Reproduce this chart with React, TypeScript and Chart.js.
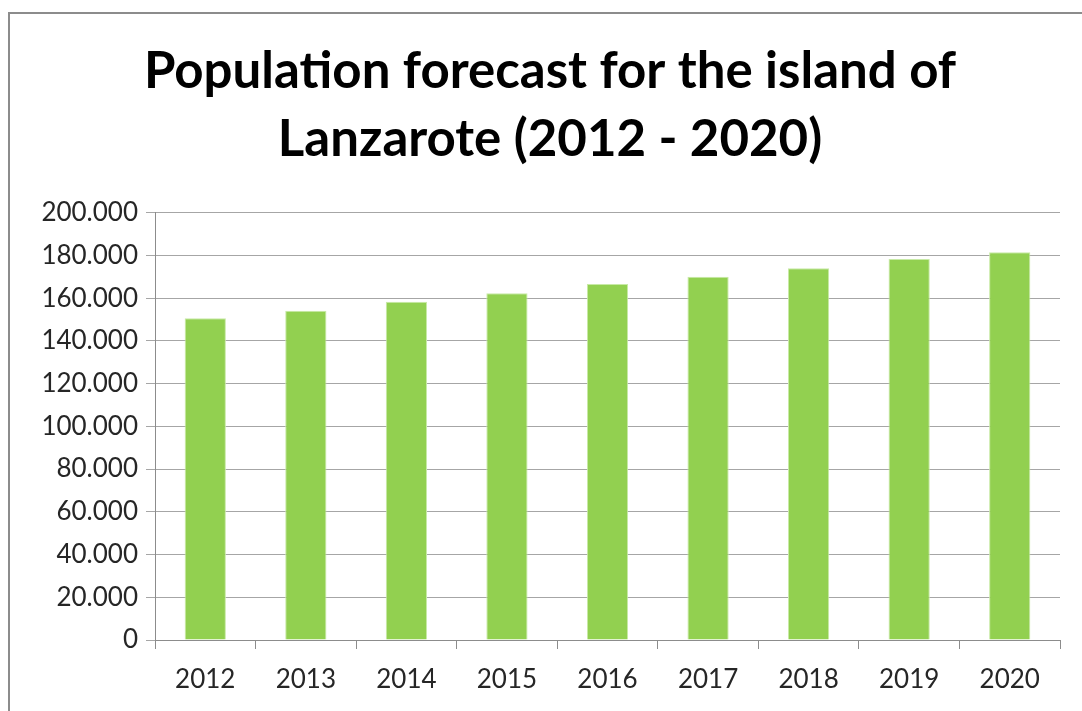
import React, { useEffect, useRef } from "react";
import { Chart, registerables } from "chart.js";

Chart.register(...registerables);

const years = ["2012", "2013", "2014", "2015", "2016", "2017", "2018", "2019", "2020"];
const population = [150600, 154100, 158300, 162300, 166600, 170000, 174000, 178300, 181500];
const titleLines = ["Population forecast for the island of", "Lanzarote (2012 - 2020)"];
const yMax = 200000;
const yStep = 20000;

export default function App() {
  const ref = useRef<HTMLCanvasElement | null>(null);
  useEffect(() => {
    if (!ref.current) return;
    const chart = new Chart(ref.current, {
      type: "bar",
      data: {
        labels: years,
        datasets: [
          {
            data: population,
            backgroundColor: "#92D050",
            borderColor: "#c8eaa6",
            borderWidth: 1,
            barPercentage: 0.41,
            categoryPercentage: 1,
          },
        ],
      },
      options: {
        animation: false,
        responsive: false,
        devicePixelRatio: 1,
        layout: { padding: { left: 40, right: 22, top: 0, bottom: 0 } },
        plugins: {
          legend: { display: false },
          tooltip: { enabled: false },
          title: {
            display: true,
            text: titleLines,
            color: "#000000",
            font: { family: "Lato", size: 51, weight: "bold", lineHeight: 1.34 },
            padding: { top: 37, bottom: 39 },
          },
        },
        scales: {
          y: {
            min: 0,
            max: yMax,
            afterFit: (s: any) => {
              s.width = 115;
            },
            ticks: {
              stepSize: yStep,
              color: "#262626",
              font: { family: "Lato", size: 26 },
              padding: 8,
              callback: (v: any) => (v === 0 ? "0" : `${v / 1000}.000`),
            },
            grid: { color: "#a6a6a6", lineWidth: 1, tickLength: 9, drawTicks: true },
            border: { color: "#8c8c8c", width: 1 },
          },
          x: {
            afterFit: (s: any) => {
              s.height = 71;
            },
            ticks: {
              color: "#262626",
              font: { family: "Lato", size: 26 },
              padding: 15,
            },
            grid: { drawOnChartArea: false, drawTicks: true, tickLength: 9, color: "#8c8c8c", offset: true },
            border: { color: "#8c8c8c", width: 1 },
          },
        },
      },
    });
    return () => chart.destroy();
  }, []);
  return (
    <div style={{ position: "absolute", left: 0, top: 0, width: 1082, height: 711, background: "#fff", overflow: "hidden" }}>
      <canvas ref={ref} width={1082} height={711} style={{ position: "absolute", left: 0, top: 0 }} />
      <div
        style={{
          position: "absolute",
          left: 8,
          top: 12,
          width: 1100,
          height: 720,
          borderLeft: "2px solid #8c8c8c",
          borderTop: "2px solid #8c8c8c",
          pointerEvents: "none",
        }}
      />
    </div>
  );
}
